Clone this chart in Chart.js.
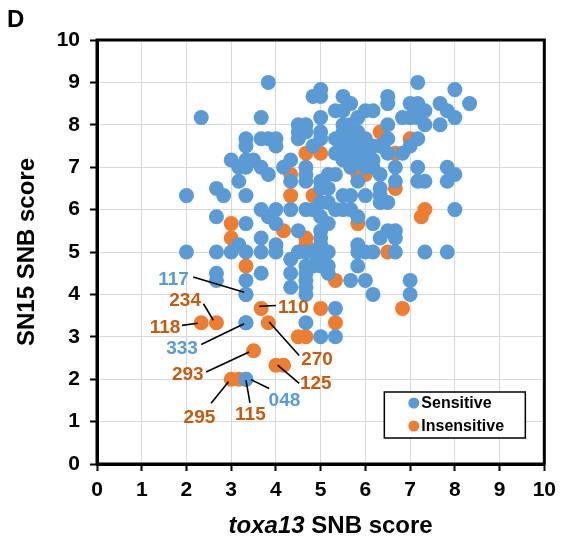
<!DOCTYPE html>
<html><head><meta charset="utf-8">
<script src="https://cdn.jsdelivr.net/npm/chart.js@4/dist/chart.umd.min.js"></script>
<style>html,body{margin:0;padding:0;background:#fff}#wrap{width:563px;height:542px}</style>
</head><body><div id="wrap"><canvas id="c" width="563" height="542"></canvas></div>
<script>
// ---- data (toxa13 SNB score = x, SN15 SNB score = y) ----
const seriesNames = ['Sensitive', 'Insensitive'];
const sensitiveX = [
 3.83,7.17, 5,8, 4.83,5,5.5,6.5,
 5.67,6.5,7,7.17,7.67,8.33,
 5.33,5.5,6,6.17,7.17,7.33,7.83,
 2.33,3.67,5,6.83,7,7.17,8,5.83,
 4.5,4.67,5.5,5.67,6.5,7.33,7.67,
 4.5,4.67,5,5.5,5.83,5.67,
 3.33,3.67,3.83,4,4.5,5,5.33,5.67,6,6.5,7.17,
 3.33,4,5.5,5.83,6.17,6.33,7,4.83,
 5.67,6,6.5,6.83,5.33,
 3,3.33,3.5,4.33,5.5,5.83,6.17,
 3.17,3.33,3.67,4.17,4.67,5.67,6,6.17,6.67,7.17,7.83,
 3.83,4.67,5.17,5.33,6.33,8,
 3.17,4.33,4.67,5,5.83,6.67,7.17,7.33,7.83,
 2.67,5,5.17,6.33,
 2,2.83,3.33,5.5,5.67,6,6.33,
 5,5.17,6.33,6.5,
 3.67,4,4.33,4.67,4.83,5.33,5.5,5.67,8,
 2.67,3.83,5,5.83,
 3.33,4,5.17,6.17,
 4.5,5,6.5,6.67,
 3.67,5,6.33,6.67,
 3.17,4,5,5.83,
 2,2.67,3,3.33,3.67,4,4.5,4.67,4.83,5.17,5.83,6,6.17,6.67,7.33,7.83,
 4.33,5,
 4.67,4.83,5,5.17,5.83,
 2.67,3.67,4.33,4.67,5.17,
 2.67,3.33,4.67,5.67,6,7,
 4.33,4.67,
 3.33,4.67,6.17,7,
 5.33,
 3.33,4.67,
 5,5.33,
 3.33
];
const sensitiveY = [
 9,9, 8.83,8.83, 8.67,8.67,8.67,8.67,
 8.5,8.5,8.5,8.5,8.5,8.5,
 8.33,8.33,8.33,8.33,8.33,8.33,8.33,
 8.17,8.17,8.17,8.17,8.17,8.17,8.17,8.17,
 8,8,8,8,8,8,8,
 7.83,7.83,7.83,7.83,7.83,7.83,
 7.67,7.67,7.67,7.67,7.67,7.67,7.67,7.67,7.67,7.67,7.67,
 7.5,7.5,7.5,7.5,7.5,7.5,7.5,7.5,
 7.33,7.33,7.33,7.33,7.33,
 7.17,7.17,7.17,7.17,7.17,7.17,7.17,
 7,7,7,7,7,7,7,7,7,7,7,
 6.83,6.83,6.83,6.83,6.83,6.83,
 6.67,6.67,6.67,6.67,6.67,6.67,6.67,6.67,6.67,
 6.5,6.5,6.5,6.5,
 6.33,6.33,6.33,6.33,6.33,6.33,6.33,
 6.17,6.17,6.17,6.17,
 6,6,6,6,6,6,6,6,6,
 5.83,5.83,5.83,5.83,
 5.67,5.67,5.67,5.67,
 5.5,5.5,5.5,5.5,
 5.33,5.33,5.33,5.33,
 5.17,5.17,5.17,5.17,
 5,5,5,5,5,5,5,5,5,5,5,5,5,5,5,5,
 4.83,4.83,
 4.67,4.67,4.67,4.67,4.67,
 4.5,4.5,4.5,4.5,4.5,
 4.33,4.33,4.33,4.33,4.33,4.33,
 4.17,4.17,
 4,4,4,4,
 3.67,
 3.33,3.33,
 3,3,
 2
];
const insensitiveX = [
 4.67,5,4.33,4.33,4.83,3,3,4.17,4.67,4.67,3.33,5,5.33,5.33,4.5,4.67,6.83,
 5.83,6.5,7.33,7.25,6.33,7,6.67,5.83,6,6.67,
 3.67,3.83,2.33,2.67,3.5,4,4.17,3,3.17
];
const insensitiveY = [
 7.33,7.33,6.83,6.33,6.33,5.67,5.33,5.5,5.33,5.17,4.67,3.67,4.33,3.33,3,3,3.67,
 5.67,5,6,5.83,7.83,7.67,7.33,6.83,6.83,6.5,
 3.67,3.33,3.33,3.33,2.67,2.33,2.33,2,2
];
const xTickValues = [0,1,2,3,4,5,6,7,8,9,10];
const yTickValues = [0,1,2,3,4,5,6,7,8,9,10];
// callouts: line id, group, point (data), text centre (data), leader line (data)
const calloutIds    = ['117','234','118','333','110','270','293','125','048','295','115'];
const calloutGroups = ['Sensitive','Insensitive','Insensitive','Sensitive','Insensitive','Insensitive','Insensitive','Insensitive','Sensitive','Insensitive','Insensitive'];
const calloutPointX = [3.33,2.67,2.33,3.33,3.67,3.83,3.5,4,3.33,3,3.17];
const calloutPointY = [4,3.33,3.33,3.33,3.67,3.33,2.67,2.33,2,2,2];
const calloutTextX  = [1.71,1.97,1.52,1.90,4.39,4.92,2.03,4.89,4.19,2.29,3.43];
const calloutTextY  = [4.34,3.85,3.21,2.72,3.68,2.45,2.11,1.89,1.50,1.09,1.17];
const calloutLineX1 = [2.15,2.38,1.90,2.33,3.63,3.85,2.44,4.04,3.44,2.94,3.33];
const calloutLineY1 = [4.41,3.78,3.27,2.82,3.72,3.35,2.17,2.33,1.99,1.94,1.98];
const calloutLineX2 = [3.29,2.60,2.25,3.29,4.00,4.52,3.40,4.52,3.85,2.55,3.42];
const calloutLineY2 = [4.05,3.39,3.32,3.31,3.74,2.56,2.64,1.90,1.78,1.43,1.44];

// ---- styling ----
const BLUE = '#5B9BD5', ORANGE = '#ED7D31';
const TEXT_BLUE = '#5B9BD5', TEXT_ORANGE = '#C55A11';
const FONT = "'Liberation Sans', Arial, Helvetica, sans-serif";

const zip = (xs, ys) => xs.map((x, i) => ({x, y: ys[i]}));
const labelledSensitive = calloutIds.map((id, i) => ({x: calloutPointX[i], y: calloutPointY[i], g: calloutGroups[i]}))
  .filter(p => p.g === 'Sensitive').map(p => ({x: p.x, y: p.y}));

const pointStyle = (c) => ({backgroundColor: c, borderColor: c, borderWidth: 0, pointRadius: 7.5, pointHoverRadius: 7.5});

const decorPlugin = {
  id: 'decor',
  afterDatasetsDraw(chart) {
    const {ctx, scales: {x, y}} = chart;
    ctx.save();
    ctx.strokeStyle = '#000';
    ctx.lineWidth = 1.6;
    ctx.font = `bold 19px ${FONT}`;
    ctx.textAlign = 'center';
    ctx.textBaseline = 'middle';
    calloutIds.forEach((id, i) => {
      ctx.beginPath();
      ctx.moveTo(x.getPixelForValue(calloutLineX1[i]), y.getPixelForValue(calloutLineY1[i]));
      ctx.lineTo(x.getPixelForValue(calloutLineX2[i]), y.getPixelForValue(calloutLineY2[i]));
      ctx.stroke();
      ctx.fillStyle = calloutGroups[i] === 'Sensitive' ? TEXT_BLUE : TEXT_ORANGE;
      ctx.fillText(id, x.getPixelForValue(calloutTextX[i]), y.getPixelForValue(calloutTextY[i]));
    });
    ctx.restore();
  },
  afterDraw(chart) {
    const {ctx, chartArea: a} = chart;
    ctx.save();
    // frame
    ctx.strokeStyle = '#000';
    ctx.lineWidth = 3;
    ctx.strokeRect(a.left, a.top, a.right - a.left, a.bottom - a.top);
    // legend
    const bw = 141, bh = 46;
    const bx = a.right - 19 - bw, by = a.bottom - 26 - bh;
    ctx.fillStyle = '#fff';
    ctx.fillRect(bx, by, bw, bh);
    ctx.lineWidth = 1.5;
    ctx.strokeRect(bx, by, bw, bh);
    ctx.font = `bold 16px ${FONT}`;
    ctx.textAlign = 'left';
    ctx.textBaseline = 'middle';
    [BLUE, ORANGE].forEach((c, i) => {
      const cy = by + 11 + i * 23;
      ctx.fillStyle = c;
      ctx.beginPath();
      ctx.arc(bx + 29.5, cy, 5.5, 0, Math.PI * 2);
      ctx.fill();
      ctx.fillStyle = '#000';
      ctx.fillText(seriesNames[i], bx + 37, cy + 1);
    });
    // panel letter
    ctx.font = `bold 24px ${FONT}`;
    ctx.textAlign = 'left';
    ctx.textBaseline = 'alphabetic';
    ctx.fillText('D', 7, 27);
    // y title
    ctx.save();
    ctx.translate(27, (a.top + a.bottom) / 2);
    ctx.rotate(-Math.PI / 2);
    ctx.textAlign = 'center';
    ctx.textBaseline = 'middle';
    ctx.font = `bold 24px ${FONT}`;
    ctx.fillText('SN15 SNB score', 0, 0);
    ctx.restore();
    // x title with italic gene name
    const t1 = 'toxa13', t2 = ' SNB score';
    ctx.font = `italic bold 24px ${FONT}`;
    const w1 = ctx.measureText(t1).width;
    ctx.font = `bold 24px ${FONT}`;
    const w2 = ctx.measureText(t2).width;
    const cx = (a.left + a.right) / 2 + 10;
    const sx = cx - (w1 + w2) / 2, ty = 526;
    ctx.textAlign = 'left';
    ctx.textBaseline = 'middle';
    ctx.font = `italic bold 24px ${FONT}`;
    ctx.fillText(t1, sx, ty);
    ctx.font = `bold 24px ${FONT}`;
    ctx.fillText(t2, sx + w1, ty);
    ctx.restore();
  }
};

new Chart(document.getElementById('c'), {
  type: 'scatter',
  data: {
    datasets: [
      {label: seriesNames[0], data: zip(sensitiveX, sensitiveY), ...pointStyle(BLUE)},
      {label: seriesNames[1], data: zip(insensitiveX, insensitiveY), ...pointStyle(ORANGE)},
      {label: seriesNames[0] + ' (labelled)', data: labelledSensitive, ...pointStyle(BLUE)}
    ]
  },
  options: {
    responsive: false,
    animation: false,
    events: [],
    layout: {padding: {top: 40, right: 18, left: 0, bottom: 0}},
    plugins: {legend: {display: false}, tooltip: {enabled: false}},
    scales: {
      x: {
        type: 'linear', min: 0, max: 10,
        afterBuildTicks(s) { s.ticks = xTickValues.map(v => ({value: v})); },
        afterFit(s) { s.height = 78; },
        ticks: {color: '#000', padding: 7, maxRotation: 0, font: {family: FONT, weight: 'bold', size: 21}},
        grid: {color: '#d9d9d9', lineWidth: 1, tickColor: '#000', tickLength: 7, tickWidth: 2},
        border: {color: '#000', width: 3}
      },
      y: {
        type: 'linear', min: 0, max: 10,
        afterBuildTicks(s) { s.ticks = yTickValues.map(v => ({value: v})); },
        afterFit(s) { s.width = 97; },
        ticks: {color: '#000', padding: 10, font: {family: FONT, weight: 'bold', size: 21}},
        grid: {color: '#d9d9d9', lineWidth: 1, tickColor: '#000', tickLength: 7, tickWidth: 2},
        border: {color: '#000', width: 3}
      }
    }
  },
  plugins: [decorPlugin]
});
</script>
</body></html>
